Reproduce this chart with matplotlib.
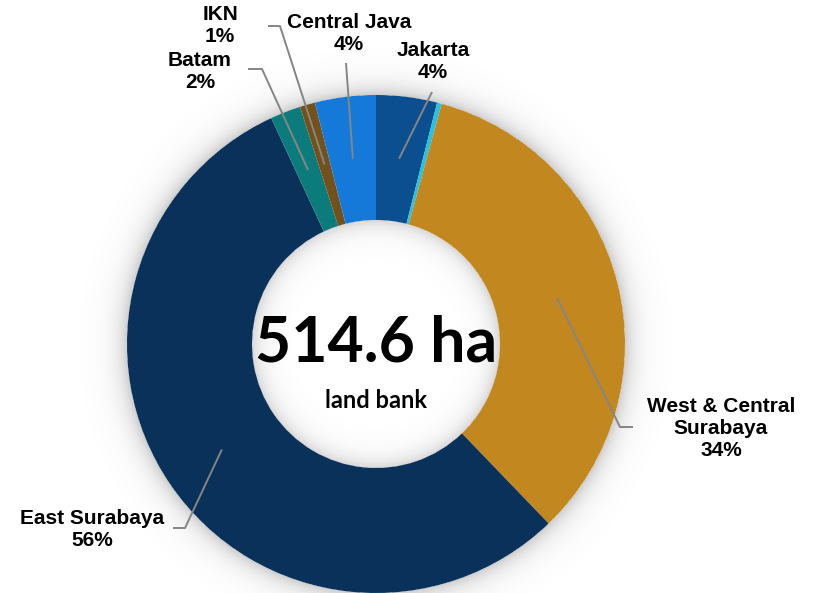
import numpy as np
import matplotlib.pyplot as plt

W, H = 814, 593

regions = ['Jakarta', '', 'West & Central\nSurabaya', 'East Surabaya', 'Batam', 'IKN', 'Central Java']
shares = [4, 0.3, 34, 56, 2, 1, 4]
colors = ['#0B4F91', '#22C3E3', '#C2871F', '#09315A', '#0C7B7C', '#74501A', '#1579D9']
total_ha = 514.6

# ring geometry in pixel units (y measured from the top)
cx, cy = 376, 344
R_OUT, R_IN = 249, 124

# text centre and leader-line path (from the wedge outwards) per label
label_layout = {
    'Jakarta': ((433, 62), [(432, 92)]),
    'Central Java': ((349, 34), [(346, 63)]),
    'IKN': ((220, 26), [(280, 26), (268, 26)]),
    'Batam': ((200, 71), [(262, 69), (248, 69)]),
    'West & Central\nSurabaya': ((721, 429), [(620, 427), (633, 427)]),
    'East Surabaya': ((92, 530), [(185, 528), (173, 528)]),
}


def flip(y):
    return H - y


fig = plt.figure(figsize=(W / 100, H / 100), dpi=100)
ax = fig.add_axes([0, 0, 1, 1])

# soft drop shadow around the ring and inside the hole
xs = np.arange(W) + 0.5
ys = np.arange(H) + 0.5
X, Y = np.meshgrid(xs, ys)
r = np.hypot(X - cx, Y - flip(cy))
alpha = np.zeros_like(r)
d_out = r - R_OUT
alpha = np.where(d_out > 0, 0.3 * np.exp(-d_out / 11.0), alpha)
d_in = R_IN - r
alpha = np.where(d_in > 0, 0.24 * np.exp(-d_in / 10.0), alpha)
shadow = np.zeros((H, W, 4))
shadow[..., :3] = 0.35
shadow[..., 3] = alpha
ax.imshow(shadow, origin='lower', extent=(0, W, 0, H), zorder=0, interpolation='bilinear')

wedges, _ = ax.pie(shares, colors=colors, startangle=90, counterclock=False,
                   radius=R_OUT, center=(cx, flip(cy)),
                   wedgeprops=dict(width=R_OUT - R_IN, linewidth=0))
for w in wedges:
    w.set_zorder(1)

for w, name, share in zip(wedges, regions, shares):
    if name not in label_layout:
        continue
    (tx, ty), path = label_layout[name]
    mid = np.deg2rad((w.theta1 + w.theta2) / 2)
    rr = 0.75 * R_OUT
    ax_x = cx + rr * np.cos(mid)
    ax_y = flip(cy) + rr * np.sin(mid)
    px = [ax_x] + [p[0] for p in path]
    py = [ax_y] + [flip(p[1]) for p in path]
    ax.plot(px, py, color='#858585', lw=1.4, zorder=2, solid_capstyle='butt')
    ax.text(tx, flip(ty), f'{name}\n{share:.0f}%', ha='center', va='center',
            fontsize=15, fontweight='bold', family='Liberation Sans',
            linespacing=1.2, color='black', zorder=3)

ax.text(cx, flip(cy), f'{total_ha} ha', ha='center', va='center',
        fontsize=45, fontweight='bold', family='Lato', color='black', zorder=3)
ax.text(cx, flip(400), 'land bank', ha='center', va='center',
        fontsize=17, fontweight='bold', family='Lato', color='black', zorder=3)

ax.set_xlim(0, W)
ax.set_ylim(0, H)
ax.set_aspect('auto')
ax.axis('off')

fig.savefig('out.png', dpi=100, facecolor='white')
